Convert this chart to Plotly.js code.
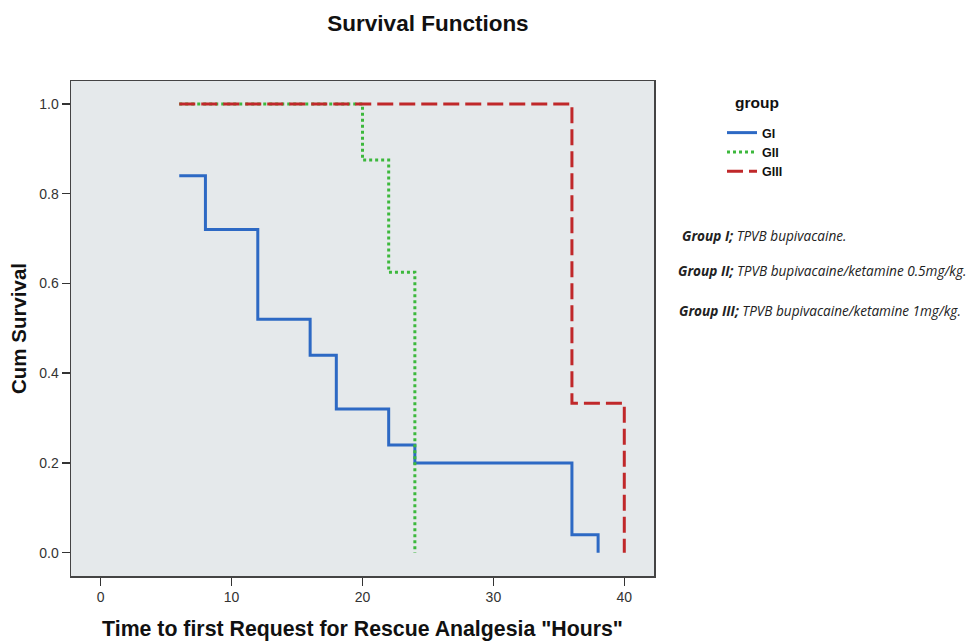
<!DOCTYPE html>
<html>
<head>
<meta charset="utf-8">
<script src="https://cdn.plot.ly/plotly-3.0.1.min.js"></script>
<style>html,body{margin:0;padding:0;background:#fff;}#chart{width:972px;height:643px;}</style>
</head>
<body>
<div id="chart"></div>
<script>
// Kaplan-Meier step data (time in hours, cumulative survival)
const groupNames = ["GI", "GII", "GIII"];
const giTime = [6, 8, 12, 16, 18, 22, 24, 36, 38];
const giSurv = [0.84, 0.72, 0.52, 0.44, 0.32, 0.24, 0.20, 0.04, 0.00];
const giiTime = [6, 20, 22, 24];
const giiSurv = [1.0, 0.875, 0.625, 0.0];
const giiiTime = [6, 36, 40];
const giiiSurv = [1.0, 0.333, 0.0];
const xTicks = [0, 10, 20, 30, 40];
const yTicks = [0, 0.2, 0.4, 0.6, 0.8, 1.0];
const legendTitle = "group";
const notes = [
  ["Group I;", " TPVB bupivacaine."],
  ["Group II;", " TPVB bupivacaine/ketamine 0.5mg/kg."],
  ["Group III;", " TPVB bupivacaine/ketamine 1mg/kg."]
];

const traces = [
  {x: giTime, y: giSurv, name: groupNames[0], mode: "lines", line: {shape: "hv", color: "#2D69C4", width: 3}},
  {x: giiTime, y: giiSurv, name: groupNames[1], mode: "lines", line: {shape: "hv", color: "#3CB83C", width: 3, dash: "3px,3px"}},
  {x: giiiTime, y: giiiSurv, name: groupNames[2], mode: "lines", line: {shape: "hv", color: "#C0282A", width: 3, dash: "16px,6px"}}
];

const L = 71, R = 654, T = 81, B = 576, W = 972, H = 643;
const px = v => (v - L) / (R - L);
const py = v => (B - v) / (B - T);
const FONT = "Liberation Sans, Arial, sans-serif";

const noteY = [235, 270, 310];
const noteX = [680, 676, 677];
const annotations = notes.map((n, i) => ({
  xref: "paper", yref: "paper", x: px(noteX[i]), y: py(noteY[i]),
  xanchor: "left", yanchor: "middle", showarrow: false,
  text: "<b><i>" + n[0] + "</i></b><i>" + n[1] + "</i>",
  font: {family: "Open Sans, Liberation Sans, sans-serif", size: 13.6, color: "#222"}
}));
annotations.push({
  xref: "paper", yref: "paper", x: px(733), y: py(103),
  xanchor: "left", yanchor: "middle", showarrow: false,
  text: "<b>" + legendTitle + "</b>",
  font: {family: FONT, size: 15.5, color: "#111"}
});

const layout = {
  width: W, height: H,
  margin: {l: L, r: W - R, t: T, b: H - B, pad: 0},
  paper_bgcolor: "#ffffff",
  plot_bgcolor: "#E5E9EB",
  title: {
    text: "<b>Survival Functions</b>",
    font: {family: FONT, size: 22.5, color: "#111"},
    x: 428 / W, xref: "container", xanchor: "center",
    y: 1 - 23 / H, yref: "container", yanchor: "middle"
  },
  xaxis: {
    range: [-2.27, 42.27], tickvals: xTicks, ticktext: xTicks.map(String),
    ticks: "outside", ticklen: 8, tickwidth: 1.5, tickcolor: "#333",
    showline: true, linecolor: "#444", linewidth: 1.5, mirror: true,
    showgrid: false, zeroline: false,
    tickfont: {family: FONT, size: 14, color: "#333"},
    title: {text: "<b>Time to first Request for Rescue Analgesia \"Hours\"</b>",
      font: {family: FONT, size: 21.3, color: "#111"}, standoff: 17}
  },
  yaxis: {
    range: [-0.052, 1.051], tickvals: yTicks, ticktext: yTicks.map(v => v.toFixed(1)),
    ticks: "outside", ticklen: 8, tickwidth: 1.5, tickcolor: "#333",
    showline: true, linecolor: "#444", linewidth: 1.5, mirror: true,
    showgrid: false, zeroline: false,
    tickfont: {family: FONT, size: 14, color: "#333"},
    title: {text: "<b>Cum Survival</b>",
      font: {family: FONT, size: 20.5, color: "#111"}, standoff: 7}
  },
  showlegend: true,
  legend: {
    x: px(722), y: py(118), xanchor: "left", yanchor: "top",
    bgcolor: "rgba(0,0,0,0)", itemwidth: 30, tracegroupgap: 0,
    font: {family: FONT, size: 12.5, color: "#111", weight: "bold"}
  },
  annotations: annotations
};

Plotly.newPlot("chart", traces, layout, {displayModeBar: false, staticPlot: true});
</script>
</body>
</html>
